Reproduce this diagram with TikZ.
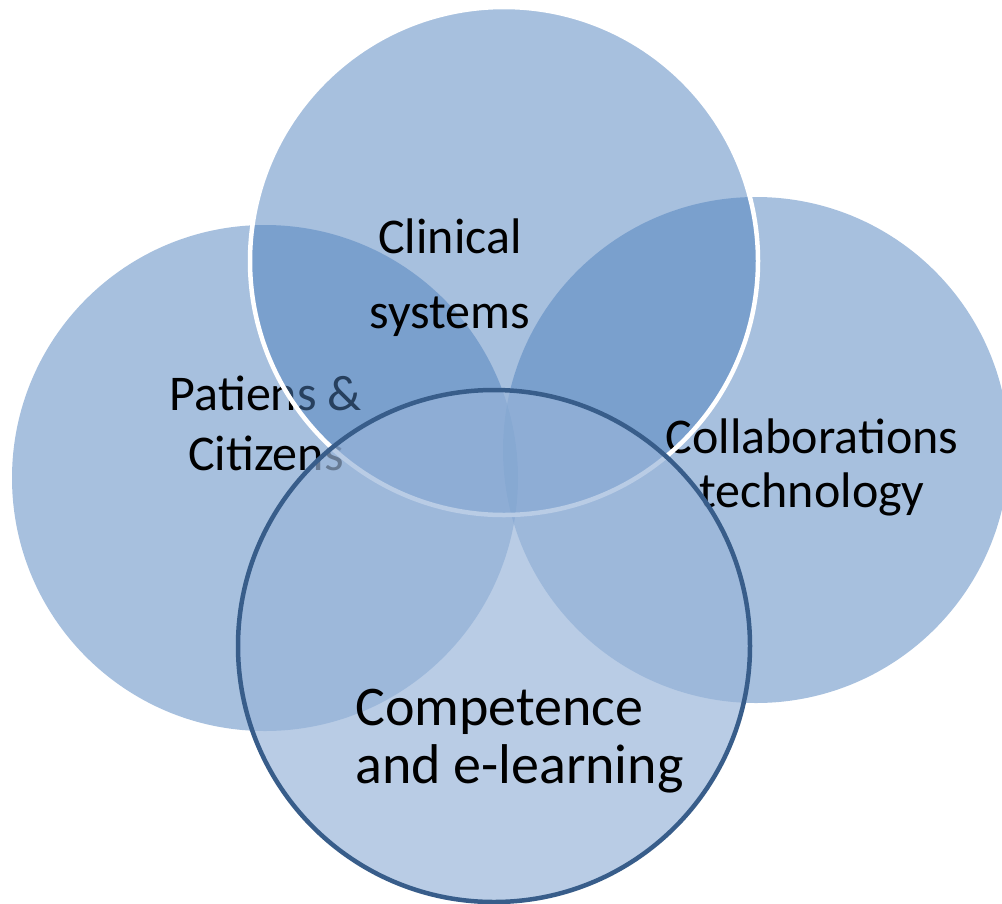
\documentclass[tikz,border=0pt]{standalone}
\usepackage{fontspec}
\setmainfont{Carlito}
\definecolor{accent}{RGB}{79,129,189}
\definecolor{botfill}{RGB}{152,180,217}
\definecolor{botline}{RGB}{56,93,138}
\begin{document}
\begin{tikzpicture}[x=1pt,y=-1pt,
  venn/.style={circle, inner sep=0pt, outer sep=0pt, minimum size=#1},
  halffill/.style={fill=accent, fill opacity=0.5},
  lbl/.style={font=\fontsize{50}{60}\selectfont, anchor=base, inner sep=0pt, text=black},
  biglbl/.style={font=\fontsize{56}{66}\selectfont, anchor=base west, inner sep=0pt, text=black}]
\useasboundingbox (0,0) rectangle (1002,903);
\clip (0,0) rectangle (1002,903);
% left circle and its text
\node[venn=506pt, halffill] (leftc) at (265,478) {};
\node[lbl] (pat1) at (266,410) {Patiens \&};
\node[lbl] (pat2) at (266,470) {Citizens};
% right circle
\node[venn=506pt, halffill] (rightc) at (756,450) {};
% top circle fill
\node[venn=508pt, halffill] (topc) at (504,261) {};
% right text
\node[lbl] (col1) at (812,453) {Collaborations};
\node[lbl] (col2) at (812,507) {technology};
% top circle white border
\node[venn=508pt, draw=white, line width=4.5pt] (topb) at (topc.center) {};
% top text
\node[lbl] (cli1) at (450,253) {Clinical};
\node[lbl] (cli2) at (450,328) {systems};
% bottom circle
\node[venn=512pt, fill=botfill, fill opacity=0.68, draw=botline, draw opacity=1, line width=4.5pt] (botc) at (494,646) {};
\node[biglbl] (com1) at (355,725) {Competence};
\node[biglbl] (com2) at (355,783) {and e-learning};
\end{tikzpicture}
\end{document}
